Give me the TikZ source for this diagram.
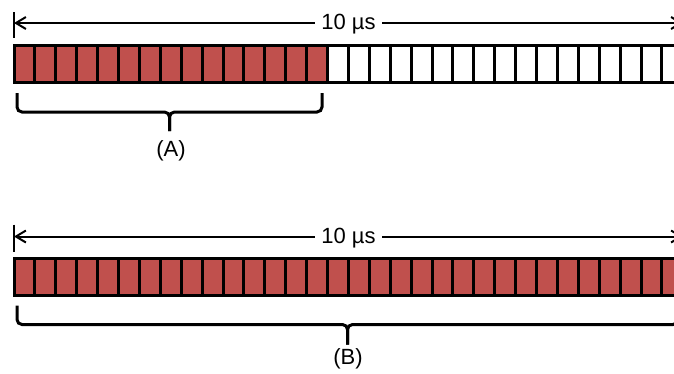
\documentclass[tikz,border=0pt]{standalone}
\usepackage{fontspec}
\setmainfont{Liberation Sans}
\usepackage{xcolor}
\definecolor{slotred}{RGB}{192,80,77}
\usetikzlibrary{arrows.meta,positioning}
\tikzset{
  slot/.style={rectangle, draw, line width=3pt, inner sep=0pt,
               minimum width=20.9pt, minimum height=37pt},
  busy/.style={slot, fill=slotred},
  idle/.style={slot, fill=white},
  span/.style={{Straight Barb[length=10pt,width=12pt,line width=2pt]}-{Straight Barb[length=10pt,width=12pt,line width=2pt]}, line width=2pt},
  tick/.style={line width=2pt},
  grp/.style={line width=3pt, rounded corners=5pt},
  lbl/.style={font=\fontsize{22}{26}\selectfont}
}

\begin{document}
\begin{tikzpicture}[x=1pt,y=-1pt]
\useasboundingbox (0,0) rectangle (674,373);
\clip (0,0) rectangle (674,373);
% (A): first 15 slots busy
\begin{scope}
\coordinate (s1) at (14,23);
\coordinate (e1) at (683,23);
\draw[tick] (14,12) -- (14,38);
\draw[tick] (683,12) -- (683,38);
\draw[span] (s1) -- node[lbl, fill=white, inner sep=6pt, yshift=-1.5pt] (t1) {10 µs} (e1);
\foreach \i in {1,...,15}
  \node[busy] (a\i) at ({14+(\i-0.5)*20.9},63.5) {};
\foreach \i in {16,...,32}
  \node[idle] (a\i) at ({14+(\i-0.5)*20.9},63.5) {};
\coordinate (bl1) at (17,93);
\coordinate (br1) at (322,93);
\coordinate (bm1) at (169.5,112);
\coordinate (bt1) at (169.5,131);
\draw[grp] (bl1) |- (bm1) -- (bt1);
\draw[grp] (br1) |- (bm1) -- (bt1);
\node[lbl] (A) at (171,151) {(A)};
\end{scope}
% (B): all slots busy
\begin{scope}[shift={(0,213.5)}]
\coordinate (s2) at (14,23);
\coordinate (e2) at (683,23);
\draw[tick] (14,11) -- (14,38);
\draw[tick] (683,11) -- (683,38);
\draw[span] (s2) -- node[lbl, fill=white, inner sep=6pt, yshift=-1.5pt] (t2) {10 µs} (e2);
\foreach \i in {1,...,32}
  \node[busy] (b\i) at ({14+(\i-0.5)*20.9},63.5) {};
\coordinate (bl2) at (17,92);
\coordinate (br2) at (678,92);
\coordinate (bm2) at (347.5,111);
\coordinate (bt2) at (347.5,131);
\draw[grp] (bl2) |- (bm2) -- (bt2);
\draw[grp] (br2) |- (bm2) -- (bt2);
\node[lbl] (B) at (348,145) {(B)};
\end{scope}
\end{tikzpicture}
\end{document}
